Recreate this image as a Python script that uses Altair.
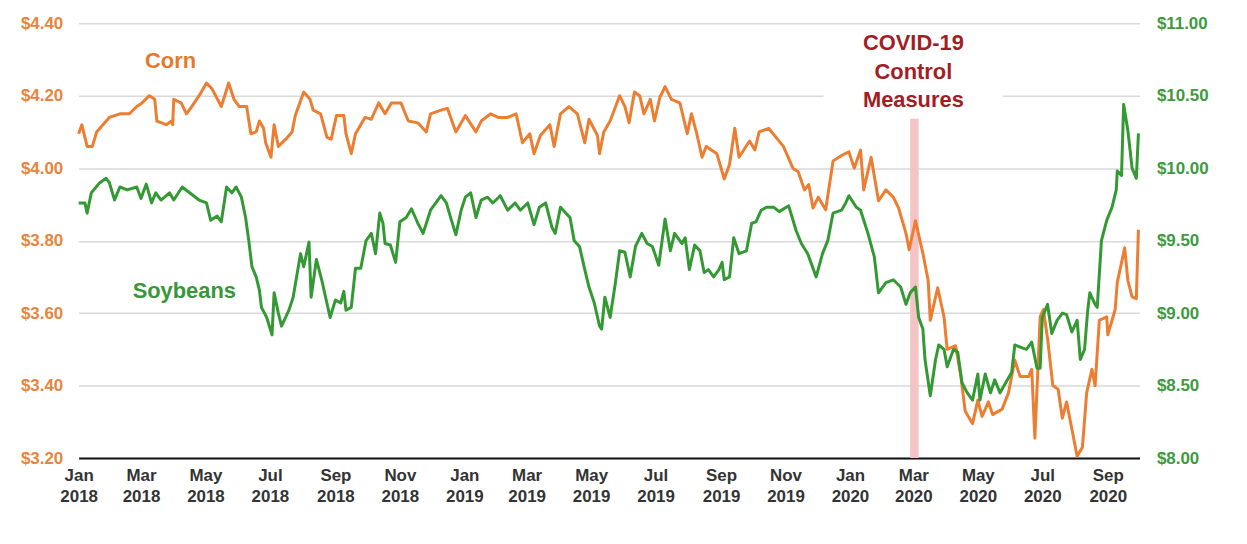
import altair as alt
import pandas as pd

# ---------------- data ----------------
# day offsets from 2018-01-01 and prices ($/bushel)
corn_days = [0, 3, 8, 13, 17, 29, 39, 48, 55, 60, 67, 72, 74, 83, 88, 89, 90, 97, 102, 107,
             114, 121, 126, 135, 142, 147, 152, 159, 163, 168, 171, 175, 177, 182, 185, 189,
             196, 202, 205, 213, 219, 222, 229, 235, 239, 244, 251, 253, 258, 262, 271, 277,
             284, 290, 296, 305, 312, 321, 329, 333, 343, 349, 357, 366, 376, 381, 390, 397,
             406, 414, 420, 427, 431, 437, 446, 450, 456, 464, 472, 479, 483, 491, 493, 497,
             503, 512, 517, 521, 526, 531, 535, 541, 545, 550, 555, 561, 569, 576, 580, 585,
             590, 594, 604, 611, 616, 621, 625, 635, 640, 644, 653, 660, 667, 676, 681, 687,
             691, 695, 700, 707, 714, 722, 729, 734, 740, 743, 750, 757, 764, 771, 776, 783,
             786, 792, 799, 804, 806, 813, 819, 822, 830, 835, 839, 846, 851, 855, 861, 865,
             874, 880, 886, 891, 899, 902, 905, 910, 913, 917, 922, 927, 931, 935, 940, 945,
             950, 954, 959, 962, 966, 973, 974, 981, 983, 990, 993, 997, 1001, 1003]
corn_vals = [4.095, 4.12, 4.06, 4.06, 4.10, 4.14, 4.15, 4.15, 4.17, 4.18, 4.20, 4.19, 4.13, 4.12,
             4.13, 4.12, 4.19, 4.18, 4.15, 4.17, 4.20, 4.235, 4.22, 4.17, 4.235, 4.19, 4.17, 4.17,
             4.095, 4.10, 4.13, 4.11, 4.07, 4.03, 4.12, 4.06, 4.08, 4.10, 4.145, 4.21, 4.19, 4.16,
             4.15, 4.085, 4.08, 4.145, 4.145, 4.095, 4.04, 4.095, 4.14, 4.135, 4.18, 4.15, 4.18,
             4.18, 4.13, 4.125, 4.10, 4.15, 4.16, 4.165, 4.10, 4.145, 4.10, 4.13, 4.15, 4.14,
             4.14, 4.15, 4.07, 4.095, 4.04, 4.09, 4.12, 4.06, 4.15, 4.17, 4.15, 4.07, 4.135,
             4.09, 4.04, 4.10, 4.13, 4.20, 4.17, 4.125, 4.21, 4.20, 4.15, 4.19, 4.13, 4.195,
             4.225, 4.19, 4.18, 4.095, 4.15, 4.095, 4.03, 4.06, 4.04, 3.97, 4.01, 4.11, 4.03,
             4.075, 4.05, 4.10, 4.11, 4.085, 4.06, 4.00, 3.99, 3.94, 3.955, 3.89, 3.92, 3.885,
             4.02, 4.035, 4.045, 4.00, 4.05, 3.94, 4.03, 3.91, 3.94, 3.92, 3.89, 3.82, 3.775,
             3.855, 3.765, 3.69, 3.58, 3.67, 3.59, 3.50, 3.51, 3.425, 3.33, 3.295, 3.36, 3.315,
             3.355, 3.32, 3.335, 3.38, 3.47, 3.425, 3.425, 3.445, 3.255, 3.59, 3.61, 3.53, 3.40,
             3.39, 3.31, 3.355, 3.28, 3.205, 3.23, 3.38, 3.445, 3.40, 3.58, 3.59, 3.54, 3.61,
             3.685, 3.78, 3.69, 3.645, 3.64, 3.83]

soy_days = [0, 6, 8, 12, 20, 26, 29, 34, 39, 46, 55, 59, 64, 69, 73, 78, 86, 90, 98, 105, 114,
            121, 125, 131, 135, 140, 145, 149, 154, 158, 161, 164, 168, 171, 173, 178, 183, 185,
            189, 192, 199, 203, 210, 213, 218, 220, 225, 230, 238, 243, 248, 251, 253, 258, 262,
            267, 272, 277, 281, 285, 288, 290, 295, 300, 304, 310, 315, 321, 326, 333, 338, 343,
            348, 352, 357, 362, 366, 371, 376, 381, 387, 392, 399, 406, 413, 418, 425, 431, 436,
            442, 448, 451, 456, 461, 465, 469, 474, 479, 483, 488, 493, 495, 498, 503, 508, 512,
            517, 522, 527, 533, 538, 543, 549, 555, 560, 564, 571, 574, 578, 583, 588, 592, 596,
            601, 606, 609, 611, 616, 620, 625, 632, 637, 641, 646, 651, 658, 663, 672, 679, 684,
            690, 698, 704, 709, 714, 722, 726, 729, 736, 740, 747, 753, 757, 764, 771, 778, 783,
            787, 792, 795, 799, 801, 806, 811, 814, 819, 822, 828, 832, 836, 841, 846, 851, 853,
            858, 863, 867, 872, 879, 883, 886, 893, 897, 902, 907, 910, 912, 917, 921, 926, 931,
            935, 940, 945, 948, 952, 955, 957, 962, 964, 968, 973, 978, 982, 983, 987, 989, 993,
            997, 1001, 1003]
soy_vals = [9.76, 9.76, 9.69, 9.83, 9.90, 9.93, 9.90, 9.78, 9.87, 9.85, 9.87, 9.79, 9.89, 9.76,
            9.83, 9.78, 9.83, 9.78, 9.87, 9.83, 9.78, 9.76, 9.64, 9.67, 9.63, 9.87, 9.83, 9.87,
            9.80, 9.66, 9.50, 9.32, 9.25, 9.16, 9.04, 8.97, 8.85, 9.14, 9.00, 8.91, 9.02, 9.11,
            9.41, 9.32, 9.49, 9.11, 9.37, 9.23, 8.97, 9.09, 9.07, 9.15, 9.02, 9.04, 9.31, 9.31,
            9.50, 9.55, 9.41, 9.69, 9.62, 9.48, 9.47, 9.35, 9.63, 9.66, 9.72, 9.62, 9.55, 9.71,
            9.76, 9.81, 9.76, 9.66, 9.54, 9.71, 9.80, 9.83, 9.66, 9.78, 9.80, 9.76, 9.81, 9.71,
            9.76, 9.71, 9.76, 9.61, 9.73, 9.76, 9.59, 9.55, 9.73, 9.69, 9.66, 9.50, 9.46, 9.30,
            9.18, 9.07, 8.91, 8.89, 9.11, 8.97, 9.21, 9.43, 9.42, 9.25, 9.46, 9.55, 9.48, 9.46,
            9.33, 9.65, 9.43, 9.55, 9.48, 9.52, 9.30, 9.47, 9.43, 9.28, 9.30, 9.25, 9.30, 9.35,
            9.23, 9.25, 9.52, 9.41, 9.43, 9.62, 9.63, 9.71, 9.73, 9.73, 9.70, 9.74, 9.57, 9.48,
            9.41, 9.25, 9.41, 9.50, 9.69, 9.71, 9.76, 9.81, 9.73, 9.71, 9.55, 9.39, 9.14, 9.21,
            9.23, 9.18, 9.06, 9.14, 9.18, 8.97, 8.89, 8.68, 8.43, 8.68, 8.78, 8.75, 8.63, 8.75,
            8.73, 8.52, 8.45, 8.40, 8.58, 8.40, 8.58, 8.45, 8.54, 8.45, 8.54, 8.59, 8.78, 8.76,
            8.75, 8.80, 8.62, 8.62, 8.97, 9.06, 8.86, 8.95, 9.00, 8.99, 8.87, 8.95, 8.68, 8.75,
            9.02, 9.14, 9.06, 9.04, 9.50, 9.64, 9.73, 9.85, 9.98, 9.95, 10.44, 10.26, 10.00,
            9.93, 10.24]

corn_ticks = [3.20, 3.40, 3.60, 3.80, 4.00, 4.20, 4.40]
soy_ticks = [8.00, 8.50, 9.00, 9.50, 10.00, 10.50, 11.00]
tick_months = [(2018, 1), (2018, 3), (2018, 5), (2018, 7), (2018, 9), (2018, 11),
               (2019, 1), (2019, 3), (2019, 5), (2019, 7), (2019, 9), (2019, 11),
               (2020, 1), (2020, 3), (2020, 5), (2020, 7), (2020, 9)]

covid_lines = ["COVID-19", "Control", "Measures"]
covid_line_y = [4.345, 4.265, 4.189]
covid_date = "2020-03-01"
covid_band = {"date": "2020-02-27", "date2": "2020-03-06", "price": 4.136, "price2": 3.20}
covid_bg = {"date": "2019-12-07", "date2": "2020-05-25", "price": 4.38, "price2": 4.15}

series_labels = [
    {"label": "Corn", "date": "2018-03-29", "price": 4.296, "color": "#E47A2E"},
    {"label": "Soybeans", "date": "2018-04-11", "price": 3.661, "color": "#3A963A"},
]

# ---------------- styles ----------------
FONT = "Liberation Sans"
CORN_LINE = "#ED7D31"
SOY_LINE = "#339933"
CORN_TXT = "#E8843C"
SOY_TXT = "#3E9A3E"
COVID_RED = "#A21E24"

base = pd.Timestamp("2018-01-01")


def to_dates(days):
    return [(base + pd.Timedelta(days=d)).strftime("%Y-%m-%d") for d in days]


corn_df = pd.DataFrame({"date": to_dates(corn_days), "price": corn_vals})
soy_df = pd.DataFrame({"date": to_dates(soy_days), "price": soy_vals})
covid_df = pd.DataFrame({"date": [covid_date] * 3, "price": covid_line_y, "label": covid_lines})
band_df = pd.DataFrame([covid_band])
bg_df = pd.DataFrame([covid_bg])
lab_df = pd.DataFrame(series_labels)

x_scale = alt.Scale(
    type="utc",
    domain=[alt.DateTime(year=2018, month=1, date=1, utc=True),
            alt.DateTime(year=2020, month=10, date=1, utc=True)],
)
x_axis = alt.Axis(
    values=[alt.DateTime(year=y, month=m, date=1, utc=True) for y, m in tick_months],
    labelExpr="[utcFormat(datum.value, '%b'), utcFormat(datum.value, '%Y')]",
    title=None, grid=False, ticks=False,
    domain=True, domainColor="#111111", domainWidth=2,
    labelFont=FONT, labelFontSize=17, labelFontWeight="bold", labelColor="#333333",
    labelPadding=10, labelLineHeight=21, labelBaseline="top", labelFlush=False,
    labelOverlap=False,
)
X = alt.X("date:T", scale=x_scale, axis=x_axis)

corn_scale = alt.Scale(domain=[3.2, 4.4], nice=False, zero=False)
soy_scale = alt.Scale(domain=[8.0, 11.0], nice=False, zero=False)

left_axis = alt.Axis(
    values=corn_ticks, labelExpr="'$' + format(datum.value, '.2f')",
    title=None, orient="left", grid=True, gridColor="#D9D9D9", gridWidth=1.5,
    domain=False, ticks=False, labelFont=FONT, labelFontSize=17, labelFontWeight="bold",
    labelColor=CORN_TXT, labelPadding=16,
)
right_axis = alt.Axis(
    values=soy_ticks, labelExpr="'$' + format(datum.value, '.2f')",
    title=None, orient="right", grid=False,
    domain=False, ticks=False, labelFont=FONT, labelFontSize=17, labelFontWeight="bold",
    labelColor=SOY_TXT, labelPadding=17,
)
YL = alt.Y("price:Q", scale=corn_scale, axis=left_axis)

bg = alt.Chart(bg_df).mark_rect(color="white").encode(x=X, x2="date2:T", y=YL, y2="price2:Q")
band = alt.Chart(band_df).mark_rect(color="#F4C4C4").encode(x=X, x2="date2:T", y=YL, y2="price2:Q")
corn = alt.Chart(corn_df).mark_line(color=CORN_LINE, strokeWidth=3, strokeJoin="round").encode(
    x=X, y=YL,
)
covid_txt = alt.Chart(covid_df).mark_text(
    font=FONT, fontSize=22, fontWeight="bold", color=COVID_RED, align="center", baseline="middle"
).encode(x=X, y=YL, text="label:N")
labels = alt.Chart(lab_df).mark_text(
    font=FONT, fontSize=22, fontWeight="bold", align="center", baseline="middle"
).encode(x=X, y=YL, text="label:N", color=alt.Color("color:N", scale=None))

left_layer = alt.layer(bg, band, corn, covid_txt, labels)
soy = alt.Chart(soy_df).mark_line(color=SOY_LINE, strokeWidth=3, strokeJoin="round").encode(
    x=X, y=alt.Y("price:Q", scale=soy_scale, axis=right_axis),
)

chart = alt.layer(left_layer, soy).resolve_scale(y="independent").properties(
    width=1066, height=437,
    background="white",
    autosize=alt.AutoSizeParams(type="none"),
    padding={"left": 71, "top": 14, "right": 100, "bottom": 70},
).configure_view(stroke=None)

chart.save("out.html", embed_options={"renderer": "svg", "actions": False})
